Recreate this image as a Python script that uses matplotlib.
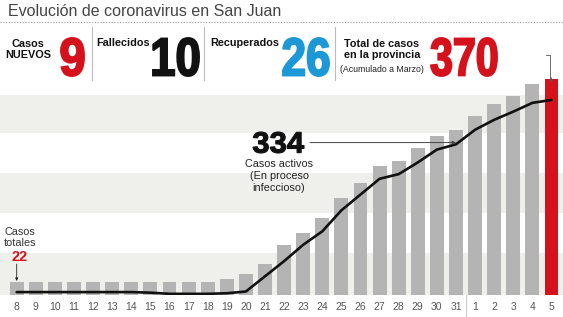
import matplotlib
matplotlib.use('Agg')
import matplotlib.pyplot as plt
from matplotlib.lines import Line2D
from matplotlib.textpath import TextPath
from matplotlib.font_manager import FontProperties
from matplotlib.patches import PathPatch
from matplotlib.transforms import Affine2D, IdentityTransform

# Data
dias = ['8', '9', '10', '11', '12', '13', '14', '15', '16', '17', '18', '19', '20',
        '21', '22', '23', '24', '25', '26', '27', '28', '29', '30', '31',
        '1', '2', '3', '4', '5']
casos_totales = [22, 22, 22, 22, 22, 22, 22, 22, 22, 22, 22, 27, 36,
                 53, 86, 107, 131, 166, 191, 221, 229, 252, 272, 283,
                 307, 327, 341, 361, 370]
casos_activos = [5, 5, 5, 5, 5, 5, 5, 4, 2, 2, 2, 3, 6,
                 32, 58, 86, 109, 145, 172, 199, 207, 227, 249, 258,
                 283, 300, 314, 329, 334]
bandas = [(0, 72), (140, 209), (277, 342)]

resumen_nuevos = '9'
resumen_fallecidos = '10'
resumen_recuperados = '26'
resumen_total = '370'

W, H = 563, 317
ROJO = '#d5121c'
AZUL = '#1b98d5'
GRIS_BARRA = '#b4b4b4'
BANDA = '#efefeb'
NARROW = ['Liberation Sans Narrow', 'Liberation Sans', 'DejaVu Sans']
SANS = ['Liberation Sans', 'DejaVu Sans']

def fx(x):
    return x / W

def fy(y):
    return 1 - y / H

fig = plt.figure(figsize=(W / 100, H / 100), dpi=100)
fig.patch.set_facecolor('white')

# big condensed numbers: text drawn as a path squeezed into a pixel box
fp_big = FontProperties(family='Liberation Sans', weight='bold')

def numero(s, x0, x1, y0, y1, color, grosor=1.0):
    tp = TextPath((0, 0), s, size=50, prop=fp_big)
    bb = tp.get_extents()
    tr = (Affine2D().translate(-bb.x0, -bb.y0)
          .scale((x1 - x0) / bb.width, (y1 - y0) / bb.height)
          .translate(x0, H - y1))
    patch = PathPatch(tr.transform_path(tp), transform=IdentityTransform(),
                      facecolor=color, edgecolor=color, lw=grosor)
    fig.add_artist(patch)

# chart axes: bars base at y=295px, axes top at 60px
step = 19.1
x0 = 16.7
ymax = (295 - 60) / 0.584
ax = fig.add_axes([0, fy(295), 1, (295 - 60) / H])
ax.set_xlim(-x0 / step, len(dias) - 1 + (W - (x0 + step * (len(dias) - 1))) / step)
ax.set_ylim(0, ymax)
for s in ax.spines.values():
    s.set_visible(False)
ax.set_yticks([])

for b0, b1 in bandas:
    ax.axhspan(b0, b1, color=BANDA, lw=0, zorder=0)

idx = list(range(len(dias)))
colores = [GRIS_BARRA] * (len(dias) - 1) + [ROJO]
ax.bar(idx, casos_totales, width=0.73, color=colores, zorder=2, clip_on=False)
ax.plot(idx, casos_activos, color='#111111', lw=1.9, zorder=3, solid_capstyle='round')

ax.set_xticks(idx)
ax.set_xticklabels(dias, fontsize=7.5, color='#555555', family=SANS)
ax.tick_params(axis='x', length=0, pad=5)
ax.axvline(23.5, ymin=-0.095, ymax=0, color='#cccccc', lw=0.8, clip_on=False)

# annotation 334
ax.annotate('', xy=(23, 261), xytext=(15.35, 261),
            arrowprops=dict(arrowstyle='-|>', color='#444444', lw=0.7,
                            mutation_scale=5, shrinkA=0, shrinkB=0))
numero(str(casos_activos[-1]), 253, 304, 132, 153, '#111111', grosor=0.8)
fig.text(fx(279), fy(176), 'Casos activos\n(En proceso\ninfeccioso)', ha='center',
         va='center', fontsize=7.8, family=SANS, color='#222222', linespacing=1.25)

# annotation casos totales 22
fig.text(fx(20), fy(237.5), 'Casos\ntotales', ha='center', va='center',
         fontsize=7.8, family=SANS, color='#333333', linespacing=1.15)
fig.text(fx(20), fy(257), str(casos_totales[0]), ha='center', va='center',
         fontsize=10.5, fontweight='bold', family=SANS, color=ROJO)
ax.annotate('', xy=(0, casos_totales[0] + 2), xytext=(0, casos_totales[0] + 31),
            arrowprops=dict(arrowstyle='-|>', color='#222222', lw=0.6,
                            mutation_scale=4, shrinkA=0, shrinkB=0))

# header
fig.text(fx(8), fy(12), 'Evolución de coronavirus en San Juan', ha='left',
         va='center', fontsize=11.5, family=SANS, color='#444444')
fig.add_artist(Line2D([0, 1], [fy(22), fy(22)], color='#999999', lw=0.8,
                      ls=(0, (1, 1.5))))
for xs in [92, 204, 335]:
    fig.add_artist(Line2D([fx(xs), fx(xs)], [fy(27), fy(80)], color='#bbbbbb', lw=0.8))

lab = dict(fontsize=7.8, fontweight='bold', family=NARROW, color='#111111')

fig.text(fx(28), fy(49.5), 'Casos\nNUEVOS', ha='center', va='center',
         linespacing=1.05, **lab)
numero(resumen_nuevos, 61, 84, 38, 76, ROJO, grosor=1.4)

fig.text(fx(96), fy(43), 'Fallecidos', ha='left', va='center', **lab)
numero(resumen_fallecidos, 153, 199, 38, 76, '#111111', grosor=1.4)

fig.text(fx(210), fy(43), 'Recuperados', ha='left', va='center', **lab)
numero(resumen_recuperados, 283, 329, 38, 76, AZUL, grosor=1.4)

fig.text(fx(382), fy(49.5), 'Total de casos\nen la provincia', ha='center',
         va='center', linespacing=1.05, **lab)
fig.text(fx(382), fy(69), '(Acumulado a Marzo)', ha='center', va='center',
         fontsize=6.3, family=NARROW, color='#222222')
numero(resumen_total, 431, 497, 38, 76, ROJO, grosor=1.4)

# connector from 370 to the last bar
fig.add_artist(Line2D([fx(546), fx(550), fx(550)], [fy(55), fy(55), fy(80)],
                      color='#555555', lw=0.6))
ax.annotate('', xy=(len(dias) - 1, casos_totales[-1] - 6),
            xytext=(len(dias) - 1, casos_totales[-1] + 2),
            arrowprops=dict(arrowstyle='-|>', color='#555555', lw=0.6,
                            mutation_scale=4, shrinkA=0, shrinkB=0),
            annotation_clip=False)

fig.savefig('out.png', dpi=100)
